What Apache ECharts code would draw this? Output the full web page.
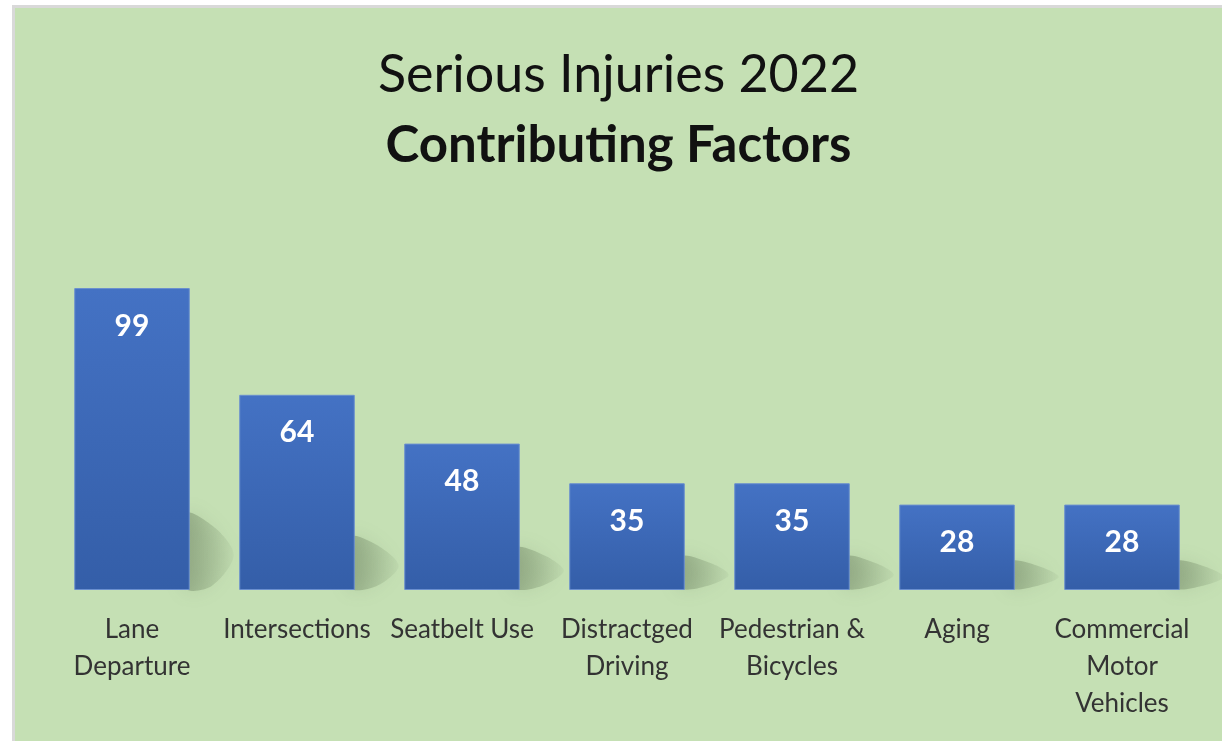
<!DOCTYPE html>
<html>
<head>
<meta charset="utf-8">
<script src="https://cdn.jsdelivr.net/npm/echarts@6/dist/echarts.min.js"></script>
<style>
  html, body { margin: 0; padding: 0; background: #ffffff; }
  #frame {
    position: absolute; left: 12px; top: 5px;
    width: 1207px; height: 733px;
    border-left: 3px solid #d9d9d9; border-top: 3px solid #d9d9d9;
    background: #c5e0b4;
  }
  #injuries { width: 1207px; height: 733px; }
</style>
</head>
<body>
<div id="frame"><div id="injuries"></div></div>
<script>
  // Serious injuries 2022 by contributing factor
  var factors = ['Lane\nDeparture', 'Intersections', 'Seatbelt Use', 'Distractged\nDriving',
                 'Pedestrian &\nBicycles', 'Aging', 'Commercial\nMotor\nVehicles'];
  var injuries = [99, 64, 48, 35, 35, 28, 28];

  var dom = document.getElementById('injuries');
  var injuryChart = echarts.init(dom);

  // soft floor shadow to the right of each bar
  function renderShadow(params, api) {
    var base = api.coord([api.value(0), 0]);
    var top = api.coord([api.value(0), api.value(1)]);
    var bw = api.size([1, 0])[0] * 0.7;
    var x0 = base[0] + bw / 2;
    var by = base[1];
    var h = (by - top[1]) * 0.22 + 10;
    var w = 44;
    return {
      type: 'polygon',
      shape: {
        smooth: 0.3,
        points: [[x0 - 4, by - 2], [x0 - 4, by - h], [x0 + w * 0.6, by - h * 0.8], [x0 + w, by - h * 0.45], [x0 + w * 0.5, by - 4]]
      },
      style: {
        fill: new echarts.graphic.LinearGradient(0, 0, 1, 0, [
          {offset: 0, color: 'rgba(80,100,70,0.38)'},
          {offset: 1, color: 'rgba(80,100,70,0.05)'}
        ]),
        shadowBlur: 18,
        shadowColor: 'rgba(80,100,70,0.45)'
      }
    };
  }

  var option = {
    backgroundColor: 'transparent',
    title: [
      {
        text: 'Serious Injuries 2022',
        left: 'center',
        top: 36,
        textStyle: {fontFamily: 'Lato', fontSize: 52, fontWeight: 'normal', color: '#111111'}
      },
      {
        text: 'Contributing Factors',
        left: 'center',
        top: 107,
        textStyle: {fontFamily: 'Lato', fontSize: 51, fontWeight: 'bold', color: '#111111'}
      }
    ],
    grid: {left: 34.5, right: 17.5, top: 277, bottom: 151, containLabel: false},
    xAxis: {
      type: 'category',
      data: factors,
      axisLine: {show: false},
      axisTick: {show: false},
      axisLabel: {
        interval: 0,
        margin: 21,
        fontFamily: 'Lato',
        fontSize: 26,
        lineHeight: 37,
        color: '#333333'
      }
    },
    yAxis: {
      type: 'value',
      min: 0,
      max: 100,
      show: false,
      splitLine: {show: false}
    },
    series: [
      {
        type: 'custom',
        z: 1,
        silent: true,
        renderItem: renderShadow,
        data: injuries.map(function(v, i) { return [i, v]; })
      },
      {
        name: 'Serious Injuries',
        type: 'bar',
        z: 2,
        barWidth: '70%',
        data: injuries,
        itemStyle: {
          color: new echarts.graphic.LinearGradient(0, 0, 0, 1, [
            {offset: 0, color: '#4472c4'},
            {offset: 1, color: '#345ea8'}
          ]),
          borderColor: '#6a8fcf',
          borderWidth: 1
        },
        label: {
          show: true,
          position: 'insideTop',
          distance: 23,
          fontFamily: 'Lato',
          fontSize: 30,
          fontWeight: 'bold',
          color: '#ffffff'
        }
      }
    ]
  };

  if (option && typeof option === 'object') {
    injuryChart.setOption(option, true);
  }

  window.addEventListener('resize', function() {
    injuryChart.resize();
  });
</script>
</body>
</html>
